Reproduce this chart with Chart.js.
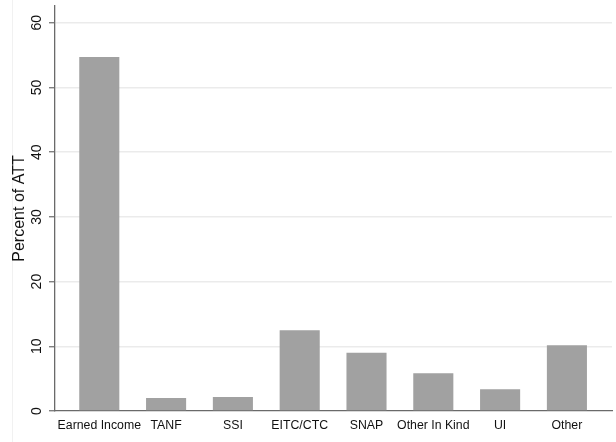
<!DOCTYPE html>
<html>
<head>
<meta charset="utf-8">
<script src="https://cdn.jsdelivr.net/npm/chart.js@4"></script>
<style>
  html, body { margin: 0; padding: 0; background: #fff; }
  #wrap { width: 616px; height: 442px; position: relative; }
</style>
</head>
<body>
<div id="wrap"><canvas id="c" width="616" height="442"></canvas></div>
<script>
const categories = ["Earned Income", "TANF", "SSI", "EITC/CTC", "SNAP", "Other In Kind", "UI", "Other"];
const percentOfATT = [54.7, 2.0, 2.15, 12.5, 9.0, 5.85, 3.35, 10.15];
const yTickValues = [0, 10, 20, 30, 40, 50, 60];

const FONT = '"Liberation Sans", Arial, Helvetica, sans-serif';

const yLabelPlugin = {
  id: 'yLabels',
  beforeDraw(chart) {
    const ctx = chart.ctx;
    ctx.save();
    ctx.strokeStyle = '#f1f1f1';
    ctx.lineWidth = 1;
    ctx.beginPath();
    ctx.moveTo(12.5, 0);
    ctx.lineTo(12.5, chart.height);
    ctx.stroke();
    ctx.restore();
  },
  afterDraw(chart) {
    const ctx = chart.ctx;
    const y = chart.scales.y;
    ctx.save();
    ctx.fillStyle = '#111';
    ctx.font = '14px ' + FONT;
    ctx.textAlign = 'center';
    ctx.textBaseline = 'middle';
    y.ticks.forEach(t => {
      const py = y.getPixelForValue(t.value);
      ctx.save();
      ctx.translate(37, py);
      ctx.rotate(-Math.PI / 2);
      ctx.fillText(String(t.value), 0, 0);
      ctx.restore();
    });
    ctx.restore();
  }
};

new Chart(document.getElementById('c'), {
  type: 'bar',
  data: {
    datasets: [{
      data: percentOfATT.map((v, i) => ({ x: i, y: v })),
      backgroundColor: '#a1a1a1',
      borderWidth: 0,
      barPercentage: 0.75,
      categoryPercentage: 0.8
    }]
  },
  options: {
    responsive: false,
    animation: false,
    devicePixelRatio: 1,
    layout: { padding: { top: 6, right: 4, left: 0, bottom: 0 } },
    plugins: { legend: { display: false }, tooltip: { enabled: false } },
    scales: {
      x: {
        type: 'linear',
        offset: false,
        min: -0.663,
        max: 7.675,
        afterBuildTicks: s => { s.ticks = categories.map((_, i) => ({ value: i })); },
        afterFit: s => { s.height = 31; },
        grid: { display: false, drawTicks: false, offset: false },
        border: { display: true, color: '#6a6a6a', width: 1.3 },
        ticks: {
          autoSkip: false,
          maxRotation: 0,
          minRotation: 0,
          padding: 7,
          color: '#111',
          font: { family: FONT, size: 12.3 },
          callback: v => categories[v]
        }
      },
      y: {
        min: 0,
        max: 62.6,
        afterBuildTicks: s => { s.ticks = yTickValues.map(v => ({ value: v })); },
        afterFit: s => { s.width = 55; },
        grid: {
          color: ctx => (ctx.tick && ctx.tick.value === 0) ? 'rgba(0,0,0,0)' : '#ebebeb',
          lineWidth: 1.5,
          drawTicks: true,
          tickLength: 6,
          tickColor: '#6a6a6a',
          tickWidth: 1.2
        },
        border: { display: true, color: '#6a6a6a', width: 1.3 },
        ticks: { display: false },
        title: {
          display: true,
          text: 'Percent of ATT',
          color: '#111',
          font: { family: FONT, size: 16 },
          padding: { top: 10, bottom: 0 }
        }
      }
    }
  },
  plugins: [yLabelPlugin]
});
</script>
</body>
</html>
